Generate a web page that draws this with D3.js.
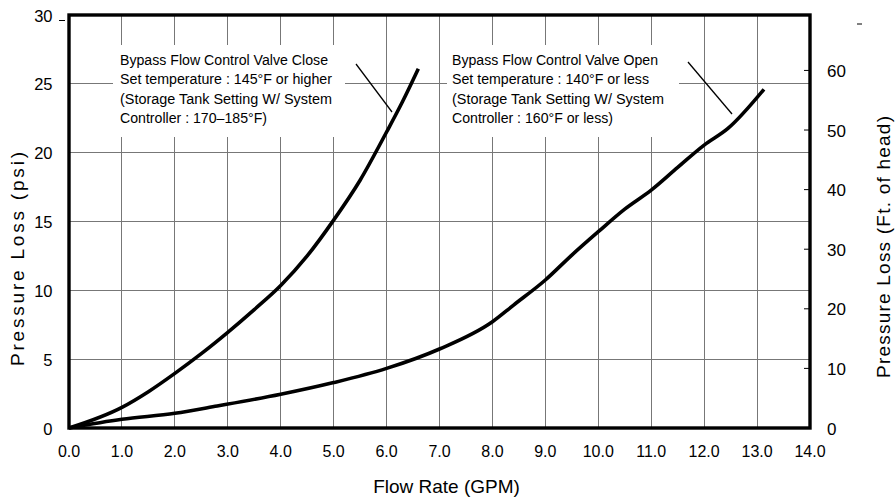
<!DOCTYPE html>
<html>
<head>
<meta charset="utf-8">
<script src="https://cdn.jsdelivr.net/npm/d3@7/dist/d3.min.js"></script>
<style>
  html, body { margin: 0; padding: 0; background: #fff; }
  svg { display: block; }
  text { font-family: "Liberation Sans", Arial, "Noto Sans CJK JP", sans-serif; fill: #000; }
</style>
</head>
<body>
<svg id="chart" width="896" height="497"></svg>
<script>
// ---- data ----
const gpmTicks = [0,1,2,3,4,5,6,7,8,9,10,11,12,13,14];
const psiTicks = [0,5,10,15,20,25,30];
const ftTicks = [0,10,20,30,40,50,60];

const closeFlow = [0,1,1.5,2,2.5,3,3.5,4,4.5,5,5.5,6,6.3,6.6];
const closePsi  = [0,1.5,2.64,3.97,5.4,6.95,8.6,10.35,12.5,15.1,18.0,21.5,23.7,26.1];

const openFlow = [0,1,2,2.8,4,5,6,7,8,8.4,9,9.5,10,10.5,11,11.5,12,12.45,13.13];
const openPsi  = [0,0.63,1.07,1.6,2.45,3.3,4.33,5.74,7.72,8.93,10.75,12.56,14.26,15.9,17.28,18.93,20.55,21.76,24.6];

const closeNote = ["Bypass Flow Control Valve Close","Set temperature : 145°F or higher","(Storage Tank Setting W/ System","Controller : 170–185°F)"];
const openNote  = ["Bypass Flow Control Valve Open","Set temperature : 140°F or less","(Storage Tank Setting W/ System","Controller : 160°F or less)"];

const PSI_TO_FT = 2.31;

// ---- layout ----
const L = 69, R = 810, T = 15, B = 428;
const svg = d3.select("#chart");
const x = d3.scaleLinear().domain([0,14]).range([L,R]);
const y = d3.scaleLinear().domain([0,30]).range([B,T]);
const yFt = d3.scaleLinear().domain([0,30*PSI_TO_FT]).range([B,T]);

// grid
const grid = svg.append("g").attr("stroke","#777").attr("stroke-width",1).attr("shape-rendering","crispEdges");
gpmTicks.slice(1,-1).forEach(g => grid.append("line").attr("x1",x(g)).attr("x2",x(g)).attr("y1",T).attr("y2",B));
psiTicks.slice(1,-1).forEach(p => grid.append("line").attr("x1",L).attr("x2",R).attr("y1",y(p)).attr("y2",y(p)));

// annotation boxes (white background interrupting the grid)
function note(lines, x0, boxX0, boxX1, widths) {
  svg.append("rect").attr("x",boxX0).attr("y",45).attr("width",boxX1-boxX0).attr("height",92).attr("fill","#fff");
  const g = svg.append("g");
  lines.forEach((s,i) => {
    g.append("text").attr("x",x0).attr("y",64.5 + i*19.6)
      .attr("font-size",14).attr("textLength",widths[i]).attr("lengthAdjust","spacingAndGlyphs").text(s);
  });
}
note(closeNote, 120, 113, 345, [208,212,212,147]);
note(openNote, 452, 447, 679, [206,197,212,161]);

// leader lines
svg.append("line").attr("x1",356).attr("y1",64).attr("x2",392).attr("y2",112).attr("stroke","#000").attr("stroke-width",1.3);
svg.append("line").attr("x1",688).attr("y1",62).attr("x2",732).attr("y2",114).attr("stroke","#000").attr("stroke-width",1.3);

// curves
const line = d3.line().x(d => x(d[0])).y(d => y(d[1])).curve(d3.curveMonotoneX);
svg.append("path").datum(closeFlow.map((f,i)=>[f,closePsi[i]])).attr("d",line)
  .attr("fill","none").attr("stroke","#000").attr("stroke-width",3.6).attr("stroke-linejoin","round").attr("stroke-linecap","butt");
svg.append("path").datum(openFlow.map((f,i)=>[f,openPsi[i]])).attr("d",line)
  .attr("fill","none").attr("stroke","#000").attr("stroke-width",3.6).attr("stroke-linejoin","round").attr("stroke-linecap","butt");

// frame
svg.append("rect").attr("x",L).attr("y",T).attr("width",R-L).attr("height",B-T)
  .attr("fill","none").attr("stroke","#000").attr("stroke-width",3.4);

// right inner ticks
ftTicks.slice(1).forEach(f => svg.append("line").attr("x1",R-6).attr("x2",R).attr("y1",yFt(f)).attr("y2",yFt(f)).attr("stroke","#000").attr("stroke-width",1));

// small stray dashes
svg.append("line").attr("x1",59).attr("x2",65).attr("y1",20.5).attr("y2",20.5).attr("stroke","#000").attr("stroke-width",1);
svg.append("line").attr("x1",857).attr("x2",862).attr("y1",24).attr("y2",24).attr("stroke","#000").attr("stroke-width",1);

// tick labels
svg.append("g").selectAll("text").data(gpmTicks).join("text")
  .attr("x",d=>x(d)).attr("y",457).attr("text-anchor","middle").attr("font-size",16).text(d=>d.toFixed(1));
svg.append("g").selectAll("text").data(psiTicks).join("text")
  .attr("x",52.5).attr("y",d=>y(d)+6.5).attr("text-anchor","end").attr("font-size",16.5).text(d=>d);
svg.append("g").selectAll("text").data(ftTicks).join("text")
  .attr("x",827).attr("y",d=>yFt(d)+6.5).attr("text-anchor","start").attr("font-size",17).text(d=>d);

// axis titles
svg.append("text").attr("x",446.5).attr("y",493).attr("text-anchor","middle").attr("font-size",19).text("Flow Rate (GPM)");
svg.append("text").attr("transform","translate(24,259) rotate(-90)").attr("text-anchor","middle").attr("font-size",19)
  .attr("textLength",214).attr("lengthAdjust","spacing").text("Pressure Loss (psi)");
svg.append("text").attr("transform","translate(890,247) rotate(-90)").attr("text-anchor","middle").attr("font-size",19)
  .attr("textLength",262).attr("lengthAdjust","spacing").text("Pressure Loss (Ft. of head)");
</script>
</body>
</html>
